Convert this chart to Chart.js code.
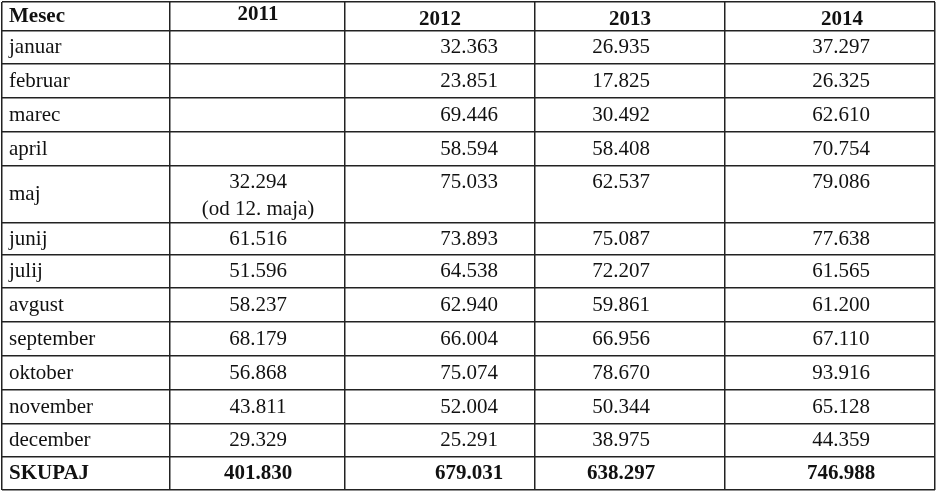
<!DOCTYPE html>
<html>
<head>
<meta charset="utf-8">
<script src="https://cdn.jsdelivr.net/npm/chart.js@4/dist/chart.umd.min.js"></script>
<style>
  body { margin: 0; background: #fff; }
  #wrap { width: 940px; height: 494px; }
</style>
</head>
<body>
<div id="wrap"><canvas id="c"></canvas></div>
<script>
// table content
const headers = ['Mesec', '2011', '2012', '2013', '2014']
const months = ['januar', 'februar', 'marec', 'april', 'maj', 'junij', 'julij', 'avgust',
  'september', 'oktober', 'november', 'december']
const v2011 = [null, null, null, null, 32294, 61516, 51596, 58237, 68179, 56868, 43811, 29329]
const v2012 = [32363, 23851, 69446, 58594, 75033, 73893, 64538, 62940, 66004, 75074, 52004, 25291]
const v2013 = [26935, 17825, 30492, 58408, 62537, 75087, 72207, 59861, 66956, 78670, 50344, 38975]
const v2014 = [37297, 26325, 62610, 70754, 79086, 77638, 61565, 61200, 67110, 93916, 65128, 44359]
const totalLabel = 'SKUPAJ'
const totals = [401830, 679031, 638297, 746988]
const note2011 = '(od 12. maja)'

// layout (scale units = pixels of the reference)
const colEdges = [2, 170, 345, 535, 725, 935]
const rowEdges = [2, 31, 64, 98, 132, 166, 223, 255, 288, 322, 356, 390, 424, 457, 490]
const headerX = [null, 258, 440, 630, 842]
const numX = [null, 258, 469, 621, 841]

const fmt = n => n == null ? '' : n.toString().replace(/\B(?=(\d{3})+(?!\d))/g, '.')

const tablePlugin = {
  id: 'table',
  afterDraw(chart) {
    const ctx = chart.ctx
    const xs = chart.scales.x, ys = chart.scales.y
    const mid = i => ys.getPixelForValue((rowEdges[i] + rowEdges[i + 1]) / 2)
    ctx.save()
    ctx.fillStyle = '#111'
    ctx.textBaseline = 'middle'
    const normal = '21px "Liberation Serif", "DejaVu Serif", serif'
    const bold = 'bold 21px "Liberation Serif", "DejaVu Serif", serif'

    // header
    ctx.font = bold
    ctx.textAlign = 'left'
    ctx.fillText(headers[0], xs.getPixelForValue(colEdges[0] + 7), ys.getPixelForValue(17))
    ctx.textAlign = 'center'
    headers.slice(1).forEach((h, j) => {
      let y = j == 0 ? 15 : 20
      ctx.fillText(h, xs.getPixelForValue(headerX[j + 1]), ys.getPixelForValue(y))
    })

    // month rows
    ctx.font = normal
    const series = [v2011, v2012, v2013, v2014]
    months.forEach((m, i) => {
      let y = mid(i + 1)
      ctx.textAlign = 'left'
      ctx.fillText(m, xs.getPixelForValue(colEdges[0] + 7), y)
      ctx.textAlign = 'center'
      series.forEach((s, j) => {
        if (m == 'maj') {
          let top = ys.getPixelForValue(rowEdges[i + 1] + 16)
          ctx.fillText(fmt(s[i]), xs.getPixelForValue(numX[j + 1]), top)
          if (j == 0) ctx.fillText(note2011, xs.getPixelForValue(numX[1]), top + 27)
        } else {
          ctx.fillText(fmt(s[i]), xs.getPixelForValue(numX[j + 1]), y)
        }
      })
    })

    // totals
    ctx.font = bold
    let y = mid(months.length + 1)
    ctx.textAlign = 'left'
    ctx.fillText(totalLabel, xs.getPixelForValue(colEdges[0] + 7), y)
    ctx.textAlign = 'center'
    totals.forEach((t, j) => ctx.fillText(fmt(t), xs.getPixelForValue(numX[j + 1]), y))
    ctx.restore()
  }
}

const gridOpts = { color: '#222', lineWidth: 1.5, drawTicks: false }

new Chart(document.getElementById('c'), {
  type: 'scatter',
  data: { datasets: [{ data: [] }] },
  plugins: [tablePlugin],
  options: {
    responsive: true,
    maintainAspectRatio: false,
    animation: false,
    layout: { padding: { left: 2, right: 5, top: 2, bottom: 4 } },
    plugins: { legend: { display: false }, tooltip: { enabled: false } },
    scales: {
      x: {
        type: 'linear', min: colEdges[0], max: colEdges[colEdges.length - 1],
        afterBuildTicks: s => { s.ticks = colEdges.map(v => ({ value: v })) },
        grid: gridOpts, border: { display: false },
        ticks: { display: false }
      },
      y: {
        type: 'linear', min: rowEdges[0], max: rowEdges[rowEdges.length - 1], reverse: true,
        afterBuildTicks: s => { s.ticks = rowEdges.map(v => ({ value: v })) },
        grid: gridOpts, border: { display: false },
        ticks: { display: false }
      }
    }
  }
})
</script>
</body>
</html>
